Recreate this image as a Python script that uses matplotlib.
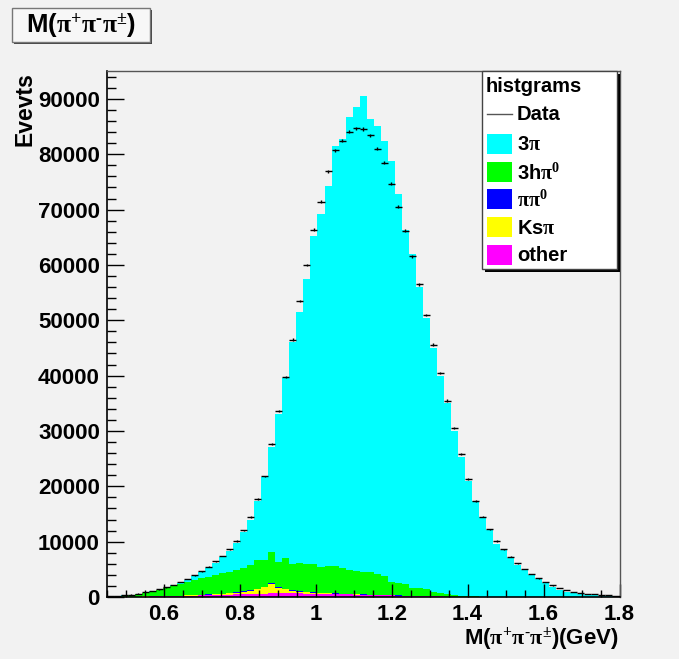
import numpy as np
import matplotlib.pyplot as plt
from matplotlib.patches import Rectangle
from matplotlib.ticker import FixedLocator, MultipleLocator

plt.rcParams['font.family'] = ['Liberation Sans', 'DejaVu Sans']
plt.rcParams['font.weight'] = 'bold'
plt.rcParams['mathtext.fontset'] = 'custom'
plt.rcParams['mathtext.rm'] = 'Liberation Serif'
plt.rcParams['mathtext.default'] = 'rm'

W, H = 679, 659
bg = '#f2f2f2'

# 73 bins between 0.45 and 1.8 GeV
edges = np.linspace(0.45, 1.8, 74)
centers = 0.5 * (edges[1:] + edges[:-1])

data = [120, 200, 320, 450, 620, 850, 1100, 1390, 1750, 2170,
        2710, 3250, 3920, 4640, 5480, 6450, 7410, 8620, 10120, 12050,
        14460, 17710, 21800, 27700, 33600, 39800, 46500, 53500, 60000, 66400,
        71450, 76940, 80730, 82470, 84100, 84700, 84580, 83440, 81020, 78490,
        74640, 70490, 66200, 61570, 56500, 51000, 45600, 40500, 35500, 30500,
        25800, 21300, 17350, 14510, 12230, 10120, 8620, 7280, 6090, 5060,
        4160, 3380, 2710, 2110, 1630, 1270, 960, 780, 600, 490,
        360, 300, 240]

# stack levels (top of each coloured layer)
lvl_3pi = [110, 180, 290, 420, 580, 800, 1050, 1330, 1700, 2100,
           2600, 3150, 3800, 4500, 5300, 6200, 7150, 8350, 9800, 11700,
           13900, 17350, 21630, 27160, 33000, 39500, 46000, 51500, 57400, 65300,
           69220, 74340, 81570, 82720, 86700, 88620, 90600, 86400, 85070, 82410,
           78860, 72900, 66330, 62000, 56000, 50500, 45000, 40000, 35000, 30000,
           25300, 21000, 17400, 14510, 12110, 9580, 8490, 6990, 5780, 4880,
           3980, 3200, 2500, 1860, 1265, 900, 670, 500, 360, 280,
           200, 150, 100]

lvl_3hpi0 = [100, 140, 180, 360, 540, 780, 960, 1270, 1680, 1990,
             2350, 2770, 3070, 3380, 3670, 3980, 4280, 4580, 4880, 5190,
             5780, 6690, 6690, 8190, 6380, 7100, 5960, 6090, 5900, 5900,
             5370, 5600, 5600, 5190, 4880, 4700, 4460, 4460, 4160, 3800,
             2770, 2590, 2290, 1680, 1680, 1450, 960, 780, 500, 360,
             250, 180, 120, 90, 70, 55, 45, 35, 28, 22,
             18, 14, 11, 9, 7, 5, 4, 3, 2, 2,
             1, 1, 1]

lvl_pipi0 = [25, 35, 55, 65, 85, 110, 140, 165, 205, 230,
             270, 310, 355, 410, 470, 540, 620, 720, 860, 1010,
             1210, 1510, 1870, 2460, 1860, 1500, 1220, 1100, 970, 870,
             790, 720, 660, 600, 555, 510, 470, 430, 390, 350,
             316, 280, 244, 210, 176, 154, 132, 110, 89, 77,
             66, 55, 44, 39, 34, 28, 23, 21, 17, 14,
             12, 10, 8, 6, 4, 3, 2, 2, 1, 1,
             1, 0, 0]

lvl_kspi = [25, 35, 50, 60, 75, 100, 125, 150, 185, 210,
            245, 280, 320, 370, 420, 480, 550, 640, 760, 900,
            1090, 1380, 1720, 2300, 1710, 1360, 1100, 990, 870, 780,
            710, 650, 600, 550, 510, 470, 435, 400, 365, 330,
            298, 265, 232, 200, 168, 147, 126, 105, 85, 74,
            63, 53, 42, 37, 32, 27, 22, 20, 16, 13,
            11, 9, 7, 6, 4, 3, 2, 2, 1, 1,
            1, 0, 0]

lvl_other = [20, 30, 40, 50, 60, 80, 100, 120, 150, 170,
             200, 230, 260, 290, 320, 350, 380, 420, 460, 500,
             540, 580, 620, 650, 660, 660, 650, 640, 620, 600,
             580, 550, 520, 490, 460, 430, 400, 370, 340, 310,
             280, 250, 220, 190, 160, 140, 120, 100, 80, 70,
             60, 50, 40, 35, 30, 25, 20, 18, 15, 12,
             10, 8, 6, 5, 4, 3, 2, 2, 1, 1,
             1, 0, 0]

names = [r'3$\pi$', r'3h$\pi^{0}$', r'$\pi\pi^{0}$', r'Ks$\pi$', 'other']
colors = ['#00ffff', '#00ff00', '#0000ff', '#ffff00', '#ff00ff']
levels = [lvl_3pi, lvl_3hpi0, lvl_pipi0, lvl_kspi, lvl_other]

fig = plt.figure(figsize=(W / 100, H / 100), dpi=100, facecolor=bg)
ax = fig.add_axes([106.8 / W, 1 - 597 / H, (619.5 - 106.8) / W, (597 - 70.7) / H])
ax.set_facecolor(bg)

for lv, c in zip(levels, colors):
    ax.stairs(lv, edges, fill=True, color=c, lw=0)

yerr = np.sqrt(np.array(data, dtype=float))
xerr = 0.5 * np.diff(edges)
ax.errorbar(centers, data, xerr=xerr, yerr=yerr, fmt='none', ecolor='black',
            elinewidth=1, capsize=0, zorder=5)

ax.set_xlim(0.45, 1.8)
ax.set_ylim(0, 95100)
ax.xaxis.set_major_locator(FixedLocator([0.6, 0.8, 1.0, 1.2, 1.4, 1.6, 1.8]))
ax.set_xticklabels(['0.6', '0.8', '1', '1.2', '1.4', '1.6', '1.8'])
ax.xaxis.set_minor_locator(MultipleLocator(0.05))
ax.yaxis.set_major_locator(FixedLocator(np.arange(0, 90001, 10000)))
ax.set_yticklabels([str(v) for v in range(0, 90001, 10000)])
ax.yaxis.set_minor_locator(MultipleLocator(2000))
ax.tick_params(axis='both', which='both', direction='in', top=False, right=False,
               width=1.0, labelsize=16)
ax.tick_params(axis='y', which='major', length=12, pad=5)
ax.tick_params(axis='y', which='minor', length=6.5)
ax.tick_params(axis='x', which='major', length=9.5, pad=5)
ax.tick_params(axis='x', which='minor', length=4.7)
for s in ['left', 'bottom']:
    ax.spines[s].set_linewidth(1.2)
for s in ['top', 'right']:
    ax.spines[s].set_color('#555555')
    ax.spines[s].set_linewidth(1.0)

# overlay in pixel coordinates for ROOT style boxes and titles
ov = fig.add_axes([0, 0, 1, 1])
ov.set_xlim(0, W)
ov.set_ylim(H, 0)
ov.axis('off')

mass = r'M($\pi^{+}\pi^{\text{-}}\pi^{\pm}$)'

# title box
ov.add_patch(Rectangle((14, 10), 138, 34, facecolor='#444444', lw=0))
ov.add_patch(Rectangle((12, 8), 138, 34, facecolor='#f7f7f7', edgecolor='#777777', lw=1))
ov.text(81, 26, mass, fontsize=18.5, ha='center', va='center')

# axis titles
ov.text(619, 638, mass + '(GeV)', fontsize=16, ha='right', va='center')
ov.text(25, 72, 'Evevts', fontsize=16.5, rotation=90, ha='center', va='top')

# legend
ov.add_patch(Rectangle((485, 74), 135, 198, facecolor='black', lw=0))
ov.add_patch(Rectangle((482, 71), 135, 198, facecolor='white', edgecolor='#444444', lw=1))
ov.text(486, 86, 'histgrams', fontsize=14.5, ha='left', va='center')
ov.plot([487, 512], [114, 114], color='#555555', lw=1)
ov.text(517, 115, 'Data', fontsize=14.5, ha='left', va='center')
for k, (nm, c) in enumerate(zip(names, colors)):
    yc = 144 + k * 27.7
    ov.add_patch(Rectangle((487, yc - 10), 25, 20, facecolor=c, lw=0))
    ov.text(517, yc + 1, nm, fontsize=14.5, ha='left', va='center')

fig.savefig('out.png', dpi=100, facecolor=bg)
